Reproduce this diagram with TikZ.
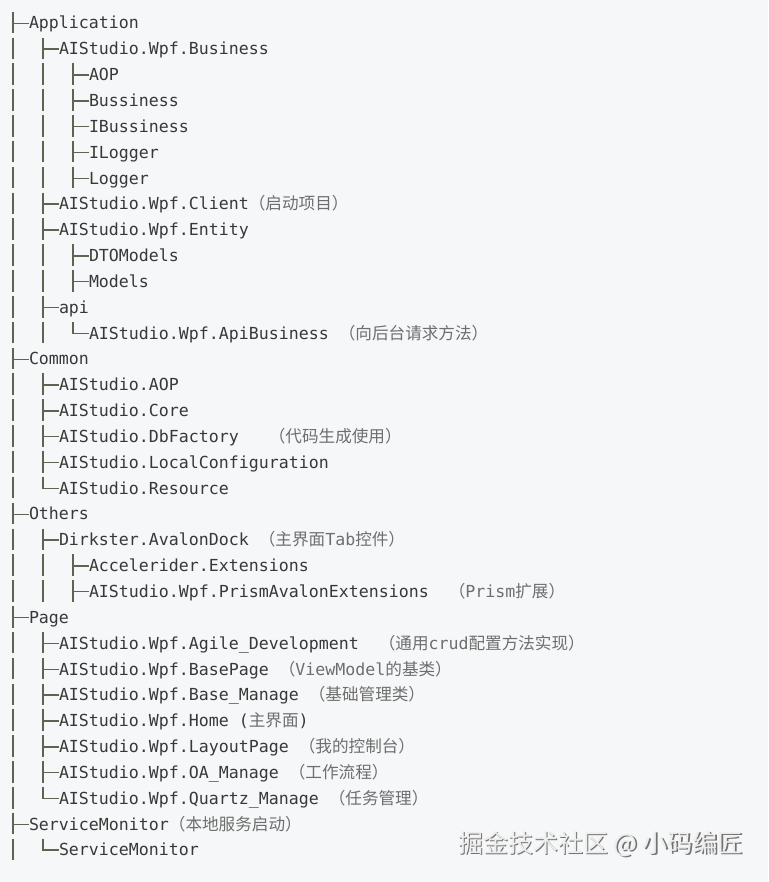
\documentclass[tikz,border=0pt]{standalone}
\usepackage{fontspec}
\setmonofont{DejaVu Sans Mono}
\newfontfamily\cjkfont{Noto Sans CJK SC}
\usetikzlibrary{calc}
\definecolor{bg}{RGB}{246,247,248}
\definecolor{txt}{RGB}{56,56,56}
\definecolor{cjkc}{RGB}{110,110,110}
\definecolor{barc}{RGB}{98,98,82}
\newcommand\zh[1]{{\cjkfont\color{cjkc}#1}}
% #1 name, #2 line number, #3 level, #4 kind (1 = tee, 0 = last), #5 text
\newcommand\treeitem[5]{%
  \pgfmathsetmacro\itemy{29+25.84*(#2-1)}%
  \pgfmathsetmacro\itemx{29+30*(#3-1)}%
  \node[entry] (#1) at (\itemx,\itemy) {#5};
  \ifnum#4=1
    \draw[barline] (#1.base west) ++(-16,-17.3) -- ++(0,21.6);
    \draw[barline] (#1.base west) ++(-16,-5.7) -- ++(16,0);
  \else
    \draw[barline] (#1.base west) ++(-16,-17.3) -- ++(0,11.6) -- ++(16,0);
  \fi
  \ifnum#3>1 \draw[barline] (#1.base west) ++(-46,-17.3) -- ++(0,21.6); \fi
  \ifnum#3>2 \draw[barline] (#1.base west) ++(-76,-17.3) -- ++(0,21.6); \fi
}
\begin{document}
\begin{tikzpicture}[x=1pt,y=-1pt,
  entry/.style={anchor=base west,inner sep=0pt,outer sep=0pt,
    font=\ttfamily\fontsize{16.6}{20}\selectfont,text=txt},
  barline/.style={draw=barc,line width=1.4pt},
  wmark/.style={anchor=base west,inner sep=0pt,outer sep=0pt,
    font=\cjkfont\fontsize{25}{30}\selectfont}]
\fill[bg] (0,0) rectangle (768,882);
\useasboundingbox (0,0) rectangle (768,882);

\treeitem{n1}{1}{1}{1}{Application}
\treeitem{n2}{2}{2}{1}{AIStudio.Wpf.Business}
\treeitem{n3}{3}{3}{1}{AOP}
\treeitem{n4}{4}{3}{1}{Bussiness}
\treeitem{n5}{5}{3}{1}{IBussiness}
\treeitem{n6}{6}{3}{1}{ILogger}
\treeitem{n7}{7}{3}{1}{Logger}
\treeitem{n8}{8}{2}{1}{AIStudio.Wpf.Client\zh{（启动项目）}}
\treeitem{n9}{9}{2}{1}{AIStudio.Wpf.Entity}
\treeitem{n10}{10}{3}{1}{DTOModels}
\treeitem{n11}{11}{3}{1}{Models}
\treeitem{n12}{12}{2}{1}{api}
\treeitem{n13}{13}{3}{0}{AIStudio.Wpf.ApiBusiness\ \zh{（向后台请求方法）}}
\treeitem{n14}{14}{1}{1}{Common}
\treeitem{n15}{15}{2}{1}{AIStudio.AOP}
\treeitem{n16}{16}{2}{1}{AIStudio.Core}
\treeitem{n17}{17}{2}{1}{AIStudio.DbFactory\ \ \ \zh{（代码生成使用）}}
\treeitem{n18}{18}{2}{1}{AIStudio.LocalConfiguration}
\treeitem{n19}{19}{2}{0}{AIStudio.Resource}
\treeitem{n20}{20}{1}{1}{Others}
\treeitem{n21}{21}{2}{1}{Dirkster.AvalonDock\ \zh{（主界面}{\color{cjkc}Tab}\zh{控件）}}
\treeitem{n22}{22}{3}{1}{Accelerider.Extensions}
\treeitem{n23}{23}{3}{1}{AIStudio.Wpf.PrismAvalonExtensions\ \ \zh{（}{\color{cjkc}Prism}\zh{扩展）}}
\treeitem{n24}{24}{1}{1}{Page}
\treeitem{n25}{25}{2}{1}{AIStudio.Wpf.Agile\_Development\ \ \zh{（通用}{\color{cjkc}crud}\zh{配置方法实现）}}
\treeitem{n26}{26}{2}{1}{AIStudio.Wpf.BasePage\ \zh{（}{\color{cjkc}ViewModel}\zh{的基类）}}
\treeitem{n27}{27}{2}{1}{AIStudio.Wpf.Base\_Manage\ \zh{（基础管理类）}}
\treeitem{n28}{28}{2}{1}{AIStudio.Wpf.Home (\zh{主界面})}
\treeitem{n29}{29}{2}{1}{AIStudio.Wpf.LayoutPage\ \zh{（我的控制台）}}
\treeitem{n30}{30}{2}{1}{AIStudio.Wpf.OA\_Manage\ \zh{（工作流程）}}
\treeitem{n31}{31}{2}{0}{AIStudio.Wpf.Quartz\_Manage\ \zh{（任务管理）}}
\treeitem{n32}{32}{1}{1}{ServiceMonitor\zh{（本地服务启动）}}
\treeitem{n33}{33}{2}{0}{ServiceMonitor}

\node[wmark,text=black!55] (wmshadow) at (459.6,853.6) {掘金技术社区 @ 小码编匠};
\node[wmark,text=white!93!black] (wm) at (458,852) {掘金技术社区 @ 小码编匠};
\end{tikzpicture}
\end{document}
